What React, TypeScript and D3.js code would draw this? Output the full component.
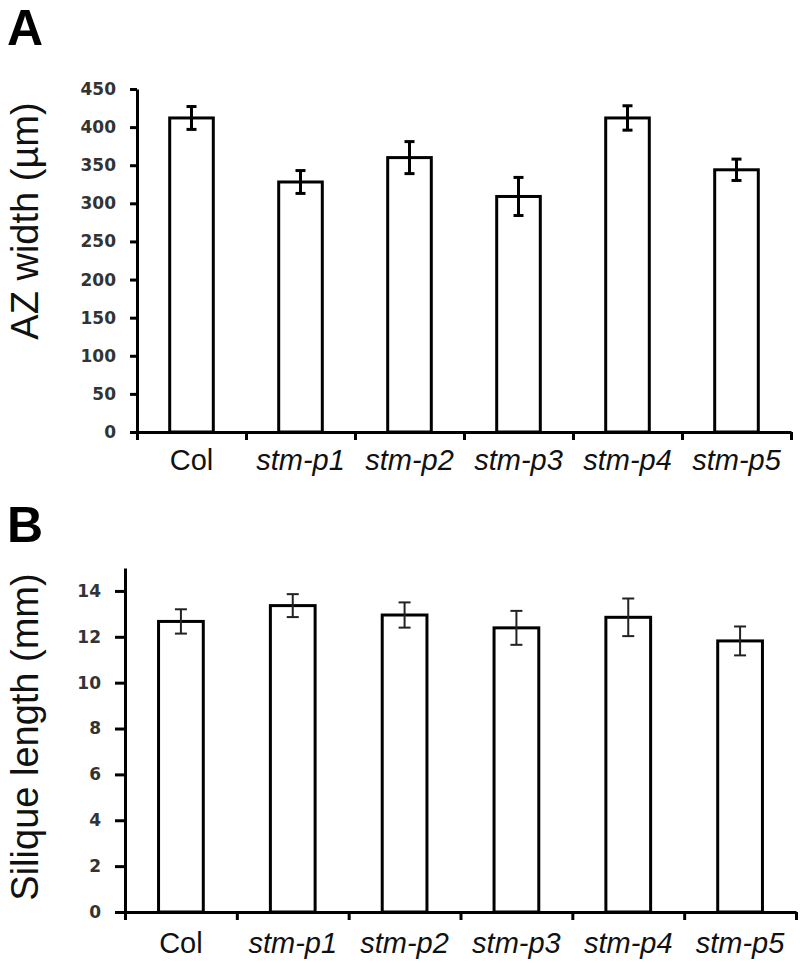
import React, { useEffect, useRef } from 'react';
import * as d3 from 'd3';

// genotypes on the x axis, shared by both panels
const genotypes = ['Col', 'stm-p1', 'stm-p2', 'stm-p3', 'stm-p4', 'stm-p5'];

// panel A: abscission zone width (um)
const azWidth = [412, 328, 360, 309, 412, 344];
const azWidthErr = [15, 15, 21, 25, 16, 14];
const azTicks = [0, 50, 100, 150, 200, 250, 300, 350, 400, 450];

// panel B: silique length (mm)
const siliqueLength = [12.67, 13.36, 12.95, 12.39, 12.85, 11.82];
const siliqueLengthErr = [0.53, 0.5, 0.55, 0.74, 0.82, 0.63];
const siliqueTicks = [0, 2, 4, 6, 8, 10, 12, 14];

const width = 800;
const height = 963;

const tickFont = '"DejaVu Sans", Verdana, sans-serif';
const labelFont = '"Liberation Sans", Arial, sans-serif';

function drawPanel(svg, p) {
    const g = svg.append('g').classed(`panel panel--${p.letter}`, true);

    // scales
    const x = d3.scaleBand()
        .domain(genotypes)
        .range([p.left, p.right])
        .paddingInner(0.6)
        .paddingOuter(0.3);
    const xEdges = d3.scaleLinear().domain([0, genotypes.length]).range([p.left, p.right]);
    const y = d3.scaleLinear().domain([0, p.yMax]).range([p.bottom, p.top]);

    // bars
    g.append('g')
        .selectAll('rect')
        .data(p.values)
        .join('rect')
        .attr('x', (d, i) => x(genotypes[i]))
        .attr('y', d => y(d))
        .attr('width', x.bandwidth())
        .attr('height', d => y(0) - y(d))
        .attr('fill', '#fff')
        .attr('stroke', '#000')
        .attr('stroke-width', 3);

    // error bars
    const eb = g.append('g')
        .attr('stroke', p.errColor)
        .attr('stroke-width', p.errWidth)
        .selectAll('g')
        .data(p.values.map((v, i) => ({ v, e: p.errors[i], cx: x(genotypes[i]) + x.bandwidth() / 2 })))
        .join('g');
    eb.append('line')
        .attr('x1', d => d.cx).attr('x2', d => d.cx)
        .attr('y1', d => y(d.v + d.e)).attr('y2', d => y(d.v - d.e));
    [1, -1].forEach(s => {
        eb.append('line')
            .attr('x1', d => d.cx - p.cap).attr('x2', d => d.cx + p.cap)
            .attr('y1', d => y(d.v + s * d.e)).attr('y2', d => y(d.v + s * d.e));
    });

    // y axis
    const yAxis = g.append('g')
        .attr('transform', `translate(${p.left},0)`)
        .call(d3.axisLeft(y).tickValues(p.ticks).tickSize(p.yTick).tickSizeOuter(0).tickPadding(14));
    yAxis.select('.domain').attr('stroke-width', 3);
    yAxis.selectAll('.tick line').attr('stroke-width', 3);
    yAxis.selectAll('.tick text')
        .attr('font-family', tickFont)
        .attr('font-weight', 'bold')
        .attr('font-size', 17)
        .attr('fill', '#333');

    // x axis with ticks between the categories
    const xAxis = g.append('g')
        .attr('transform', `translate(0,${p.bottom})`)
        .call(d3.axisBottom(xEdges).tickValues(d3.range(genotypes.length + 1)).tickSize(8).tickSizeOuter(0).tickFormat(() => ''));
    xAxis.select('.domain').attr('stroke-width', 3);
    xAxis.selectAll('.tick line').attr('stroke-width', 3);

    // category labels
    g.append('g')
        .selectAll('text')
        .data(genotypes)
        .join('text')
        .attr('x', d => x(d) + x.bandwidth() / 2)
        .attr('y', p.labelY)
        .attr('text-anchor', 'middle')
        .attr('font-family', labelFont)
        .attr('font-size', 29)
        .attr('font-style', d => (d === 'Col' ? 'normal' : 'italic'))
        .attr('fill', '#111')
        .text(d => d);

    // axis title
    g.append('text')
        .attr('transform', `translate(38,${p.titleY}) rotate(-90)`)
        .attr('text-anchor', 'middle')
        .attr('font-family', labelFont)
        .attr('font-size', 38)
        .attr('fill', '#111')
        .text(p.title);

    // panel letter
    g.append('text')
        .attr('x', 7)
        .attr('y', p.letterY)
        .attr('font-family', labelFont)
        .attr('font-weight', 'bold')
        .attr('font-size', 50)
        .attr('fill', '#000')
        .text(p.letter);
}

export default function App() {
    const ref = useRef(null);

    useEffect(() => {
        const svg = d3.select(ref.current);
        svg.selectAll('*').remove();

        drawPanel(svg, {
            letter: 'A', letterY: 45,
            left: 137, right: 791, top: 89, bottom: 432,
            yMax: 450, ticks: azTicks, yTick: 7,
            values: azWidth, errors: azWidthErr,
            errColor: '#000', errWidth: 3, cap: 5,
            labelY: 470, title: 'AZ width (µm)', titleY: 221,
        });
        drawPanel(svg, {
            letter: 'B', letterY: 542,
            left: 125, right: 796, top: 568, bottom: 912,
            yMax: 15, ticks: siliqueTicks, yTick: 10,
            values: siliqueLength, errors: siliqueLengthErr,
            errColor: '#222', errWidth: 2, cap: 6,
            labelY: 953, title: 'Silique length (mm)', titleY: 737,
        });
    }, []);

    return (
        <svg ref={ref} width={width} height={height}
            style={{ position: 'absolute', left: 0, top: 0, background: '#fff' }} />
    );
}
